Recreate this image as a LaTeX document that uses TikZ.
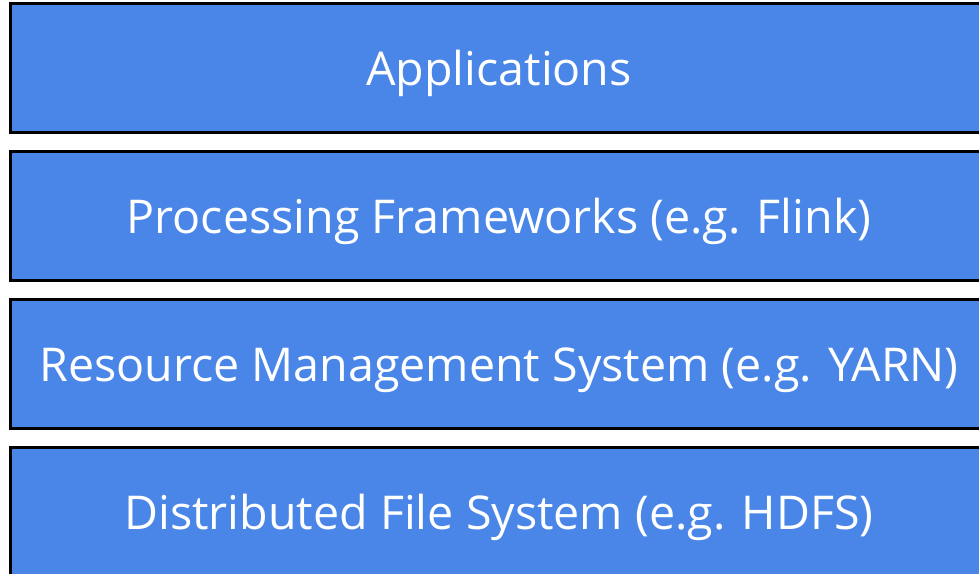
\documentclass[tikz,border=0pt]{standalone}
\usepackage{fontspec}
\setmainfont{Open Sans}[Ligatures=NoCommon]
\definecolor{layerblue}{RGB}{74,134,232}
\begin{document}
\begin{tikzpicture}[x=1pt,y=-1pt,
  layer/.style={draw=black,line width=3pt,fill=layerblue},
  lbl/.style={text=white,font=\fontsize{46.6}{56}\selectfont,anchor=base,inner sep=0pt}]
\useasboundingbox (0,0) rectangle (979,573);
\begin{scope}
\clip (0,0) rectangle (979,573);
\draw[layer] (10.5,3.5) rectangle (990,132.5);
\draw[layer] (10.5,151.5) rectangle (990,280.5);
\draw[layer] (10.5,299.5) rectangle (990,428.5);
\draw[layer] (10.5,447.5) rectangle (990,580);
\end{scope}
\node[lbl] (app) at (499,85) {Applications};
\node[lbl] (proc) at (499,233) {Processing Frameworks (e.g. Flink)};
\node[lbl] (res) at (499,381) {Resource Management System (e.g. YARN)};
\node[lbl] (dfs) at (499,529) {Distributed File System (e.g. HDFS)};
\end{tikzpicture}
\end{document}
